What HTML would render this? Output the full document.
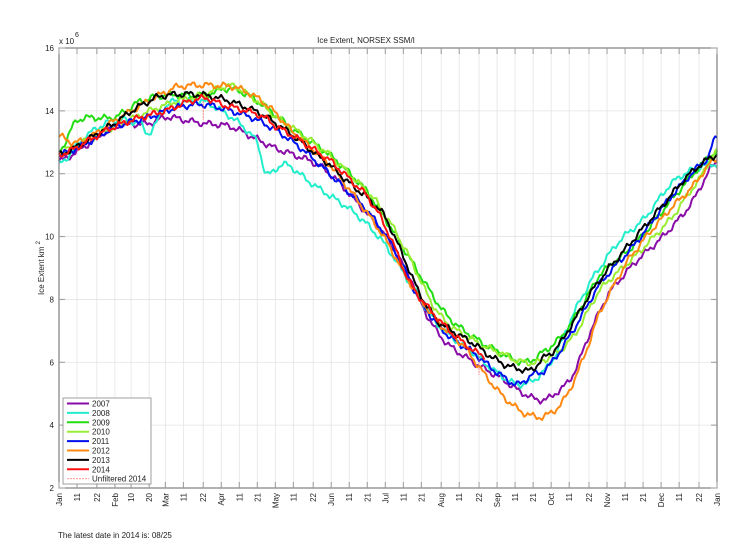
<!DOCTYPE html>
<html><head><meta charset="utf-8"><style>
body{margin:0;background:#fff;}
svg{display:block;font-family:"Liberation Sans",sans-serif;}
</style></head><body>
<svg id="s" width="732" height="549" viewBox="0 0 732 549" xmlns="http://www.w3.org/2000/svg">
<rect width="732" height="549" fill="#fff"/>
<g id="grid"></g>
<g id="curves" fill="none" stroke-width="2" stroke-linejoin="round"></g>
<rect x="59" y="48" width="658" height="440" fill="none" stroke="#666" stroke-width="1"/>
<g id="ticks" font-size="8" fill="#222"></g>
<text x="366" y="43" font-size="8" text-anchor="middle" fill="#222">Ice Extent, NORSEX SSM/I</text>
<text x="59" y="44" font-size="8" fill="#222">x 10</text>
<text x="75" y="37" font-size="7" fill="#222">6</text>
<text transform="translate(44,268) rotate(-90)" font-size="8" text-anchor="middle" fill="#222">Ice Extent km <tspan dy="-4" font-size="6">2</tspan></text>
<text x="58" y="538" font-size="8" fill="#222">The latest date in 2014 is: 08/25</text>
<g id="legend" font-size="8" fill="#222">
<rect x="63" y="398" width="88" height="86" fill="#fff" stroke="#888" stroke-width="0.8"/>
</g>
</svg>
<script>
const X=d=>59+d*658/365, Y=v=>488-(v-2)*440/14;
const ns="http://www.w3.org/2000/svg";
function el(p,t,a,txt){const e=document.createElementNS(ns,t);for(const k in a)e.setAttribute(k,a[k]);if(txt!==undefined)e.textContent=txt;p.appendChild(e);return e;}
const grid=document.getElementById('grid'),ticks=document.getElementById('ticks');
const xt=[[0,'Jan'],[10,'11'],[21,'22'],[31,'Feb'],[40,'10'],[50,'20'],[59,'Mar'],[69,'11'],[80,'22'],[90,'Apr'],[100,'11'],[110,'21'],[120,'May'],[130,'11'],[141,'22'],[151,'Jun'],[161,'11'],[171,'21'],[181,'Jul'],[191,'11'],[201,'21'],[212,'Aug'],[222,'11'],[233,'22'],[243,'Sep'],[253,'11'],[263,'21'],[273,'Oct'],[283,'11'],[294,'22'],[304,'Nov'],[314,'11'],[324,'21'],[334,'Dec'],[344,'11'],[355,'22'],[365,'Jan']];
xt.forEach(([d,l])=>{const x=X(d);
 el(grid,'line',{x1:x,y1:48,x2:x,y2:488,stroke:'#e4e4e4','stroke-width':0.8});
 el(ticks,'line',{x1:x,y1:488,x2:x,y2:482,stroke:'#999'});
 el(ticks,'line',{x1:x,y1:48,x2:x,y2:54,stroke:'#999'});
 el(ticks,'text',{transform:`translate(${x+3},${493}) rotate(-90)`,'text-anchor':'end'},l);});
for(let v=2;v<=16;v+=2){const y=Y(v);
 el(grid,'line',{x1:59,y1:y,x2:717,y2:y,stroke:'#e4e4e4','stroke-width':0.8});
 el(ticks,'line',{x1:59,y1:y,x2:65,y2:y,stroke:'#999'});
 el(ticks,'line',{x1:711,y1:y,x2:717,y2:y,stroke:'#999'});
 el(ticks,'text',{x:54,y:y+3,'text-anchor':'end'},String(v));}
const S={
'#8a0ca8':[[0,12.4],[15,12.9],[31,13.5],[50,13.6],[60,13.8],[70,13.7],[80,13.6],[95,13.5],[110,13.1],[120,12.8],[140,12.4],[150,12.0],[165,11.1],[180,10.1],[195,8.7],[205,7.4],[215,6.6],[230,6.0],[245,5.5],[258,5.0],[268,4.8],[275,5.0],[285,5.6],[295,7.0],[305,8.2],[320,9.2],[335,10.0],[350,11.0],[365,12.4]],
'#22eecc':[[0,12.3],[15,13.2],[31,13.7],[45,13.6],[50,13.3],[60,14.2],[70,14.3],[80,14.3],[90,14.0],[100,13.6],[110,13.0],[115,12.0],[125,12.3],[140,11.7],[150,11.3],[165,10.7],[180,9.8],[195,8.5],[210,7.2],[230,6.3],[245,5.6],[255,5.3],[265,5.5],[275,6.2],[285,7.5],[295,8.6],[310,9.8],[325,10.6],[340,11.7],[355,12.2],[365,12.3]],
'#22dd11':[[0,12.7],[10,13.7],[31,13.8],[45,14.3],[60,14.5],[80,14.5],[95,14.7],[110,14.3],[130,13.4],[150,12.6],[170,11.5],[185,10.2],[200,8.8],[215,7.5],[230,6.8],[245,6.3],[258,6.0],[268,6.3],[280,6.9],[290,7.8],[300,8.8],[320,9.8],[340,11.2],[365,12.7]],
'#99ee33':[[0,12.7],[31,13.5],[60,14.2],[80,14.5],[95,14.8],[105,14.5],[120,13.8],[150,12.6],[175,11.2],[190,9.8],[210,7.6],[230,6.7],[245,6.3],[258,6.0],[270,6.1],[285,6.8],[300,8.3],[320,9.4],[340,10.6],[355,11.8],[365,12.7]],
'#0011ee':[[0,12.6],[20,13.1],[31,13.5],[50,13.8],[65,14.1],[80,14.2],[95,14.0],[110,13.7],[130,13.0],[150,12.0],[170,10.9],[185,9.7],[200,8.0],[215,6.9],[230,6.3],[245,5.6],[255,5.3],[262,5.6],[270,5.8],[285,7.0],[300,8.5],[320,9.8],[340,11.3],[360,12.5],[365,13.2]],
'#ff8811':[[0,13.2],[10,13.0],[31,13.7],[60,14.6],[70,14.8],[90,14.8],[100,14.7],[115,14.2],[130,13.3],[150,12.3],[165,11.2],[180,10.0],[195,8.5],[210,7.3],[225,6.5],[235,5.7],[245,5.0],[255,4.5],[262,4.3],[270,4.3],[280,4.8],[290,6.0],[300,7.6],[315,9.2],[335,10.6],[350,11.5],[365,12.5]],
'#000000':[[0,12.6],[31,13.6],[50,14.3],[60,14.5],[80,14.5],[100,14.2],[120,13.6],[150,12.3],[170,11.3],[180,10.7],[190,9.5],[200,8.2],[210,7.3],[230,6.6],[245,6.0],[255,5.8],[262,5.75],[268,6.1],[275,6.4],[282,7.0],[295,8.2],[305,9.0],[320,10.0],[335,11.0],[350,12.0],[365,12.6]],
'#ff1111':[[0,12.6],[31,13.5],[59,14.0],[80,14.4],[90,14.2],[110,13.9],[120,13.5],[151,12.4],[171,11.3],[181,10.3],[195,8.5],[210,7.4],[225,6.6],[236,6.2]]
};
const C=document.getElementById('curves');
Object.entries(S).forEach(([col,pts],k)=>{
 let d='';
 for(let t=0;t<=pts[pts.length-1][0];t+=1){
  let i=0;while(i<pts.length-2&&pts[i+1][0]<t)i++;
  const p0=pts[Math.max(i-1,0)],p1=pts[i],p2=pts[i+1],p3=pts[Math.min(i+2,pts.length-1)];
  const u=(t-p1[0])/(p2[0]-p1[0]);
  const m1=(p2[1]-p0[1])/2,m2=(p3[1]-p1[1])/2;
  const h=2*u*u*u-3*u*u+1,h2=-2*u*u*u+3*u*u,h1=u*u*u-2*u*u+u,h3=u*u*u-u*u;
  let v=h*p1[1]+h2*p2[1]+h1*m1+h3*m2;
  v+=0.07*Math.sin(t*0.7+k*1.3)+0.05*Math.sin(t*1.9+k*2.1);
  d+=(t?'L':'M')+X(t).toFixed(1)+' '+Y(v).toFixed(1);
 }
 el(C,'path',{d:d,stroke:col});
});
el(C,'line',{x1:X(80),y1:Y(14.4),x2:X(80),y2:Y(13.7),stroke:'#ff6666','stroke-width':0.8,'stroke-dasharray':'2,1'});
el(C,'line',{x1:X(233),y1:Y(6.3),x2:X(233),y2:Y(5.6),stroke:'#ff6666','stroke-width':0.8,'stroke-dasharray':'2,1'});
const L=document.getElementById('legend');
const names=[['#8a0ca8','2007'],['#22eecc','2008'],['#22dd11','2009'],['#99ee33','2010'],['#0011ee','2011'],['#ff8811','2012'],['#000000','2013'],['#ff1111','2014'],['#ff8888','Unfiltered 2014']];
names.forEach(([c,n],i)=>{const y=403.5+i*9.4;
 el(L,'line',{x1:67,y1:y,x2:89,y2:y,stroke:c,'stroke-width':i==8?0.8:2,'stroke-dasharray':i==8?'2,1':'none'});
 el(L,'text',{x:92,y:y+3},n);});
</script>
</body></html>
